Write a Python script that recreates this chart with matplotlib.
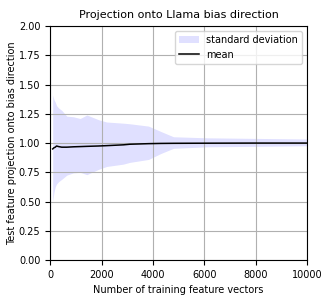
import matplotlib
matplotlib.use("Agg")
import matplotlib.pyplot as plt

# number of training vectors and statistics of the projection
n_train = [100, 150, 200, 250, 330, 450, 650, 900, 1170, 1430, 1880, 2200, 2850, 3100,
           3830, 4300, 4800, 6100, 8000, 10000]
mean = [0.95, 0.96, 0.965, 0.975, 0.97, 0.965, 0.965, 0.968, 0.97, 0.972, 0.975, 0.978,
        0.985, 0.99, 0.995, 0.997, 0.998, 0.999, 1.0, 1.0]
upper = [1.41, 1.37, 1.35, 1.32, 1.30, 1.28, 1.23, 1.225, 1.21, 1.24, 1.20, 1.18, 1.17, 1.165,
         1.145, 1.10, 1.054, 1.045, 1.04, 1.035]
lower = [0.50, 0.58, 0.627, 0.65, 0.67, 0.69, 0.726, 0.745, 0.75, 0.73, 0.775, 0.80, 0.82, 0.835,
         0.86, 0.91, 0.955, 0.968, 0.972, 0.977]

fig = plt.figure(figsize=(3.32, 2.99), dpi=100)
ax = fig.add_axes([0.151, 0.130, 0.774, 0.783])

ax.fill_between(n_train, lower, upper, color="blue", alpha=0.12, linewidth=0,
                label="standard deviation")
ax.plot(n_train, mean, color="black", linewidth=1.1, label="mean")

ax.set_xlim(0, 10000)
ax.set_ylim(0, 2)
ax.set_yticks([0, 0.25, 0.5, 0.75, 1.0, 1.25, 1.5, 1.75, 2.0])
ax.grid(True, color="#b0b0b0", linewidth=0.8)
ax.tick_params(labelsize=7)
ax.set_xlabel("Number of training feature vectors", fontsize=7)
ax.set_ylabel("Test feature projection onto bias direction", fontsize=7, labelpad=1)
ax.set_title("Projection onto Llama bias direction", fontsize=8)
ax.legend(loc="upper right", fontsize=7)

fig.savefig("out.png", dpi=100)
